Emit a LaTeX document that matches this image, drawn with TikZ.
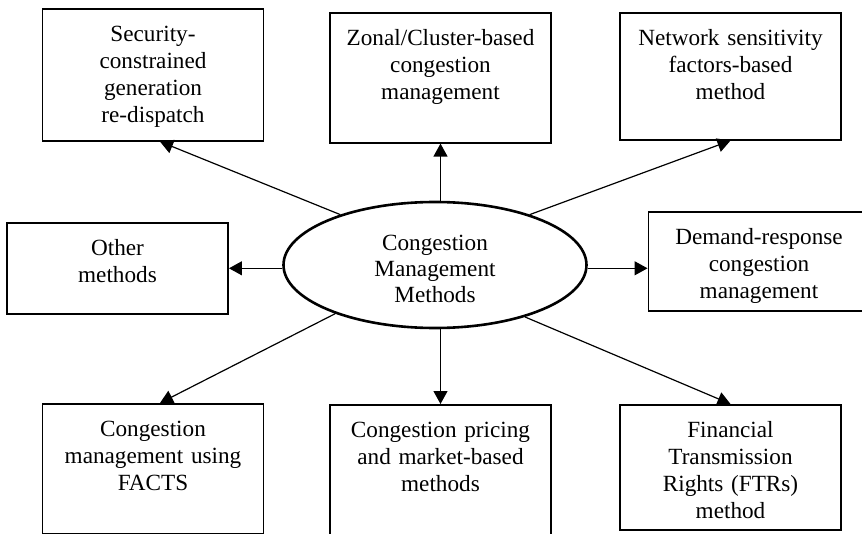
\documentclass[tikz,border=0pt]{standalone}
\usepackage{fontspec}
\setmainfont{Liberation Serif}
\usetikzlibrary{arrows.meta,shapes.geometric}

\begin{document}
\begin{tikzpicture}[x=0.5pt,y=-0.5pt]
        \tikzset{method/.style={draw,line width=0.8pt,anchor=north,minimum width=110pt,
                text width=104pt,align=center,inner ysep=4pt,text height=12.5pt,text depth=44.5pt,
                font=\fontsize{11.6}{13.5}\selectfont},
            sidemethod/.style={method,text depth=29pt},
            hub/.style={draw,ellipse,line width=1.3pt,minimum width=151.5pt,minimum height=63pt,
                align=center,inner sep=0pt,text height=38pt,font=\fontsize{11.6}{13}\selectfont},
            link/.style={draw,line width=0.6pt,-{Triangle[length=6.5pt,width=7pt]}}}
        \useasboundingbox (0,0) rectangle (862,534);
        \clip (0,0) rectangle (862,534);
        \node[hub] (cmm) at (435,265) {Congestion\\Management\\Methods};
        \node[method,text depth=45.5pt] (scgr) at (153,8) {Security-\\constrained\\generation\\re-dispatch};
        \node[method] (zonal) at (440.5,12) {Zonal/Cluster-based\\congestion\\management};
        \node[method,text depth=43pt] (nsf) at (730.5,12) {Network sensitivity\\factors-based\\method};
        \node[sidemethod,text depth=25pt] (other) at (117.5,222) {Other\\methods};
        \node[sidemethod] (demand) at (759,211) {Demand-response\\congestion\\management};
        \node[method] (facts) at (153,403) {Congestion\\management using\\FACTS};
        \node[method] (pricing) at (440.5,404) {Congestion pricing\\and market-based\\methods};
        \node[method,text depth=42pt] (ftr) at (730.5,404) {Financial\\Transmission\\Rights (FTRs)\\method};
        \draw[link] (cmm.152) -- ([xshift=3.5pt]scgr.south);
        \draw[link] (zonal.south |- cmm.north) -- (zonal.south);
        \draw[link] (cmm.28) -- (nsf.south);
        \draw[link] (cmm.west |- other.east) -- (other.east);
        \draw[link] (cmm.east |- other.east) -- (demand.west |- other.east);
        \draw[link] (cmm.206) -- ([xshift=3.5pt]facts.north);
        \draw[link] (pricing.north |- cmm.south) -- (pricing.north);
        \draw[link] (cmm.-30) -- (ftr.north);
\end{tikzpicture}
\end{document}
